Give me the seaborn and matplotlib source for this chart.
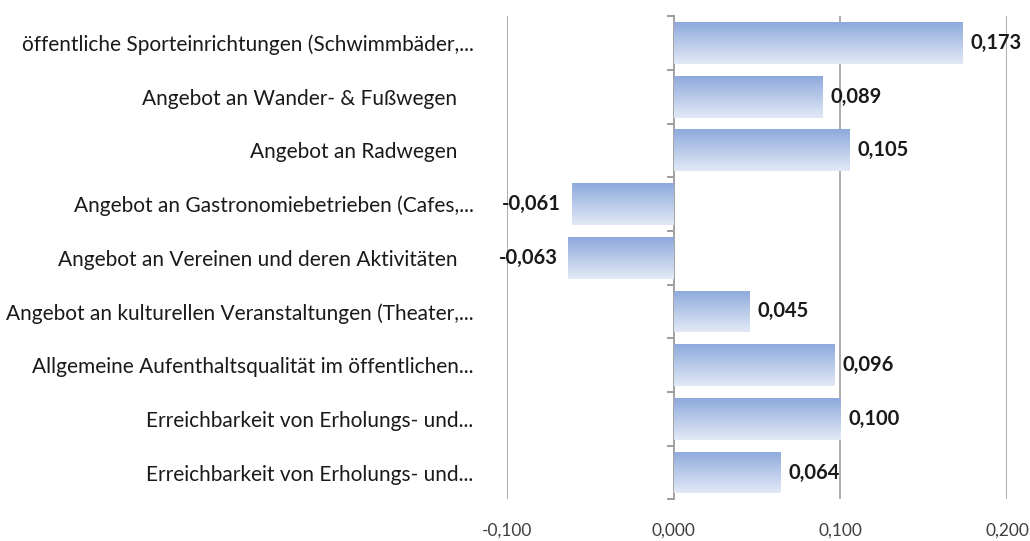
import numpy as np
import pandas as pd
import matplotlib
matplotlib.use("Agg")
import matplotlib.pyplot as plt
import matplotlib.ticker as mtick
import seaborn as sns

# Chart data
categories = [
    "öffentliche Sporteinrichtungen (Schwimmbäder,...",
    "Angebot an Wander- & Fußwegen   ",
    "Angebot an Radwegen   ",
    "Angebot an Gastronomiebetrieben (Cafes,...",
    "Angebot an Vereinen und deren Aktivitäten   ",
    "Angebot an kulturellen Veranstaltungen (Theater,...",
    "Allgemeine Aufenthaltsqualität im öffentlichen...",
    "Erreichbarkeit von Erholungs- und...",
    "Erreichbarkeit von Erholungs- und...",
]
values = [0.173, 0.089, 0.105, -0.061, -0.063, 0.045, 0.096, 0.100, 0.064]
x_ticks = [-0.1, 0.0, 0.1, 0.2]

# two labels are identical, so bars are placed by row number
df = pd.DataFrame({"pos": range(len(categories)), "value": values})

sns.set_theme(style="white")
plt.rcParams["font.family"] = ["Lato", "DejaVu Sans"]

fig = plt.figure(figsize=(10.3, 5.41), dpi=100)
ax = fig.add_axes([0.492, 0.077, 0.486, 0.893])

sns.barplot(data=df, x="value", y="pos", orient="h", width=0.78,
            color="#9db5e0", edgecolor="none", ax=ax)

ax.set_yticks(range(len(categories)))
ax.set_yticklabels(categories)
ax.set_xlim(-0.1, 0.2)
ax.set_xticks(x_ticks)
ax.xaxis.set_major_formatter(
    mtick.FuncFormatter(lambda v, p: f"{v:.3f}".replace(".", ",")))
ax.tick_params(axis="x", length=0, pad=17, labelsize=12.5, labelcolor="#404040")
ax.tick_params(axis="y", length=0, pad=24, labelsize=15, labelcolor="#1a1a1a")
ax.set_xlabel("")
ax.set_ylabel("")
for s in ax.spines.values():
    s.set_visible(False)
ax.grid(axis="x", color="#a6a6a6", linewidth=1.3)
ax.set_axisbelow(True)

# gradient fill for each bar (dark blue at top -> pale at bottom)
grad = np.linspace(0, 1, 64).reshape(-1, 1)
cmap = matplotlib.colors.LinearSegmentedColormap.from_list(
    "bar", ["#8eaadc", "#e2e9f6"])
for patch in ax.patches:
    x0, y0 = patch.get_x(), patch.get_y()
    w, h = patch.get_width(), patch.get_height()
    im = ax.imshow(grad, cmap=cmap, aspect="auto", interpolation="bicubic",
                   extent=[x0, x0 + w, y0 + h, y0], zorder=2)
    im.set_clip_path(patch)
    patch.set_facecolor("none")
ax.set_xlim(-0.1, 0.2)
ax.set_ylim(len(categories) - 0.5, -0.5)

# value labels
for i, v in enumerate(values):
    txt = f"{v:.3f}".replace(".", ",")
    ax.annotate(txt, (v, i), xytext=(6 if v >= 0 else -8, 0),
                textcoords="offset points", va="center",
                ha="left" if v >= 0 else "right",
                fontsize=14.5, fontweight="bold", color="#1a1a1a", zorder=5)

# zero axis line with category tick marks
sec = ax.secondary_yaxis(1 / 3)
sec.set_yticks(np.arange(len(categories) + 1) - 0.5)
sec.set_yticklabels([])
sec.tick_params(axis="y", length=5, width=1.2, color="#8c8c8c", direction="out")
sec.spines["left"].set_color("#8c8c8c")
sec.spines["left"].set_linewidth(1.3)

fig.savefig("out.png", dpi=100)
